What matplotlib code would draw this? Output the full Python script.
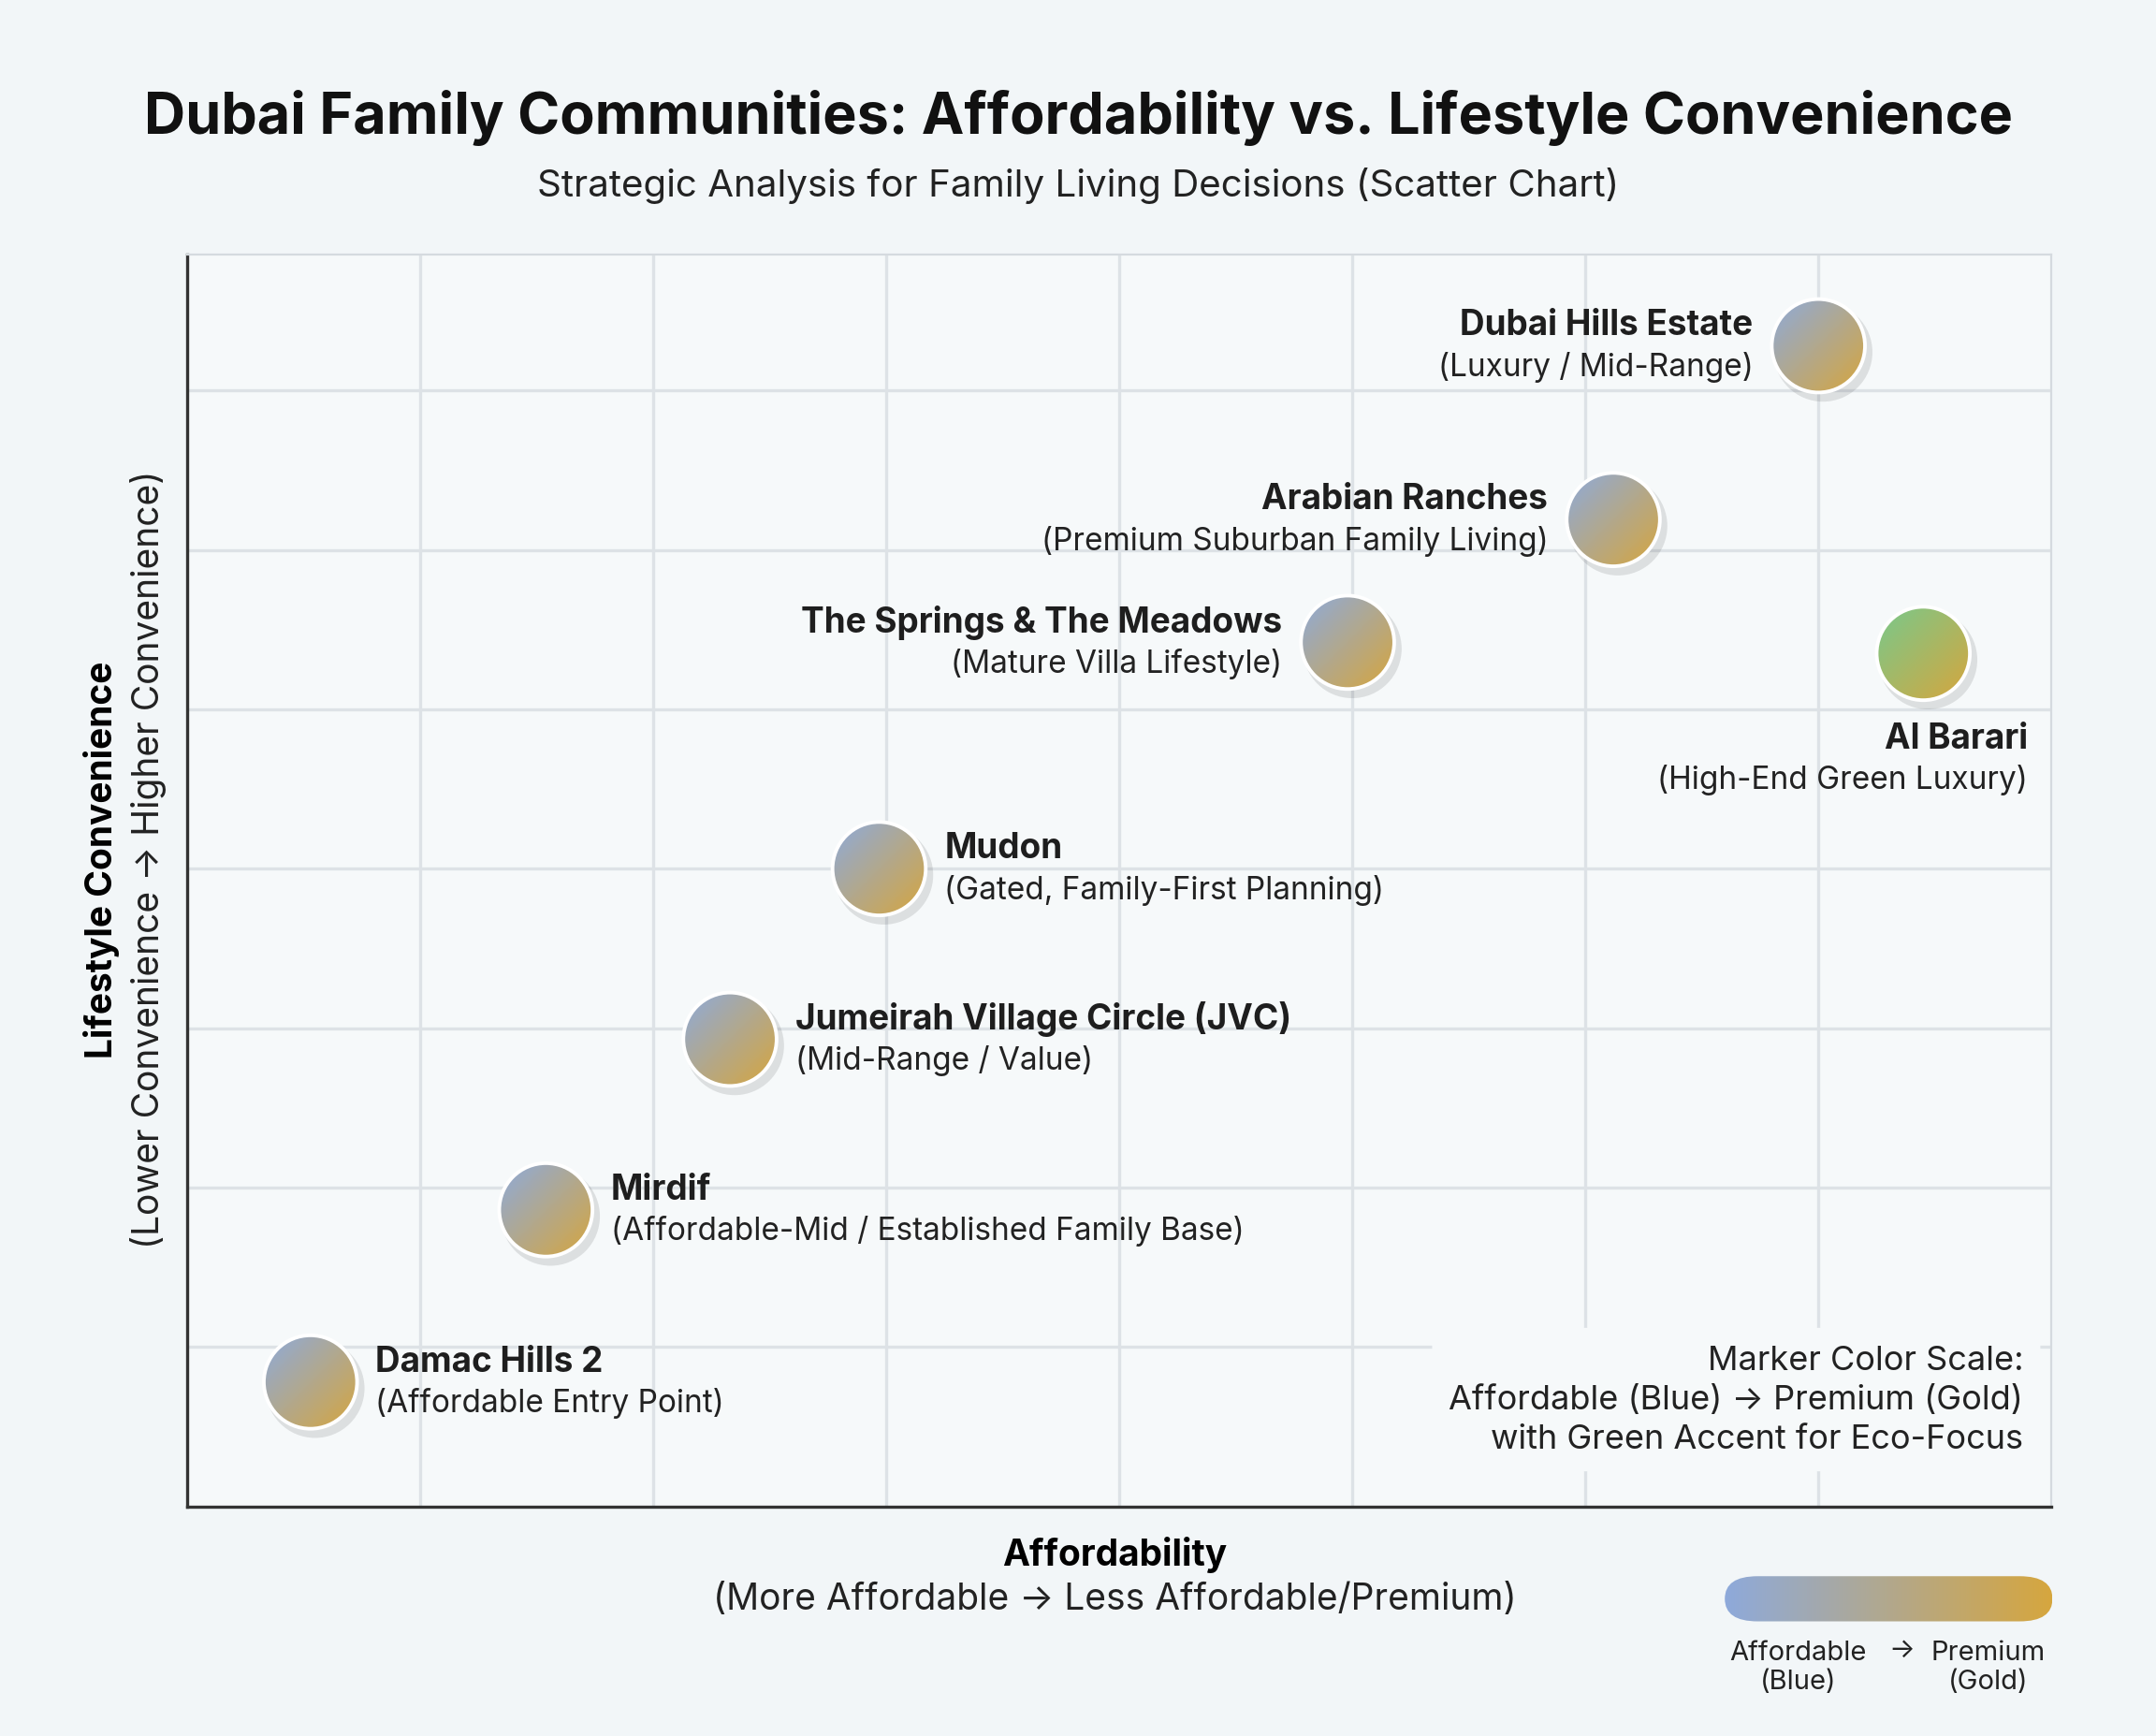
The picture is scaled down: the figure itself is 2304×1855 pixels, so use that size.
import numpy as np
import matplotlib
matplotlib.use("Agg")
import matplotlib.pyplot as plt
from matplotlib.patches import Ellipse, FancyBboxPatch
from matplotlib.colors import LinearSegmentedColormap

plt.rcParams["font.family"] = ["Inter", "DejaVu Sans"]

names = ["Damac Hills 2", "Mirdif", "Jumeirah Village Circle (JVC)", "Mudon",
         "The Springs & The Meadows", "Arabian Ranches", "Dubai Hills Estate", "Al Barari"]
subtitles = ["(Affordable Entry Point)", "(Affordable-Mid / Established Family Base)",
             "(Mid-Range / Value)", "(Gated, Family-First Planning)", "(Mature Villa Lifestyle)",
             "(Premium Suburban Family Living)", "(Luxury / Mid-Range)", "(High-End Green Luxury)"]
affordability = [0.53, 1.54, 2.33, 2.97, 4.98, 6.12, 7.0, 7.45]
convenience = [0.78, 1.86, 2.93, 4.0, 5.42, 6.19, 7.28, 5.35]
eco_focus = [False, False, False, False, False, False, False, True]
label_side = ["right", "right", "right", "right", "left", "left", "left", "below"]

BLUE = "#8eaadb"
GOLD = "#d6a63e"
GREEN = "#78c98c"
BG = "#f2f6f8"

fig = plt.figure(figsize=(11.52, 9.28), dpi=200, facecolor=BG)
ax = fig.add_axes([0.0867, 0.1322, 0.8648, 0.7205], facecolor="#f6f9fa")
ax.set_xlim(0, 8)
ax.set_ylim(0, 7.85)
ax.set_xticks(range(1, 8))
ax.set_yticks(range(1, 8))
ax.tick_params(length=0, labelbottom=False, labelleft=False)
ax.grid(True, color="#dde2e6", lw=1.2)
for s in ["top", "right"]:
    ax.spines[s].set_color("#d5dadf")
for s in ["left", "bottom"]:
    ax.spines[s].set_color("#333333")
    ax.spines[s].set_linewidth(1.2)

grad_cmap = LinearSegmentedColormap.from_list("bg", [BLUE, GOLD])
green_cmap = LinearSegmentedColormap.from_list("gg", [GREEN, GOLD])
g = np.linspace(0, 1, 64)
diag = (g[None, :] + g[:, None]) / 2

rx, ry = 0.2, 0.293
for x, y, eco in zip(affordability, convenience, eco_focus):
    cm = green_cmap if eco else grad_cmap
    shadow = Ellipse((x + 0.02, y - 0.04), 2 * rx * 1.06, 2 * ry * 1.06, color="#000000",
                     alpha=0.10, zorder=3, lw=0)
    ax.add_patch(shadow)
    ring = Ellipse((x, y), 2 * rx, 2 * ry, facecolor="none", edgecolor="white", lw=1.4, zorder=5)
    ax.add_patch(ring)
    im = ax.imshow(diag, cmap=cm, extent=(x - rx, x + rx, y - ry, y + ry), origin="upper",
                   zorder=4, aspect="auto")
    im.set_clip_path(ring)

NS, SS = 13.3, 12
for x, y, n, sub, side in zip(affordability, convenience, names, subtitles, label_side):
    if side == "right":
        ax.text(x + 0.28, y + 0.13, n, fontsize=NS, fontweight="bold", color="#1e1e1e",
                ha="left", va="center", zorder=6)
        ax.text(x + 0.28, y - 0.13, sub, fontsize=SS, color="#222222",
                ha="left", va="center", zorder=6)
    elif side == "left":
        ax.text(x - 0.28, y + 0.13, n, fontsize=NS, fontweight="bold", color="#1e1e1e",
                ha="right", va="center", zorder=6)
        ax.text(x - 0.28, y - 0.13, sub, fontsize=SS, color="#222222",
                ha="right", va="center", zorder=6)
    else:
        ax.text(x + 0.45, y - 0.53, n, fontsize=NS, fontweight="bold", color="#1e1e1e",
                ha="right", va="center", zorder=6)
        ax.text(x + 0.45, y - 0.79, sub, fontsize=SS, color="#222222",
                ha="right", va="center", zorder=6)

ax.text(7.88, 0.67, "Marker Color Scale:\nAffordable (Blue) \u2192 Premium (Gold)\nwith Green Accent for Eco-Focus",
        fontsize=13, ha="right", va="center", color="#222222", linespacing=1.35, zorder=6,
        bbox=dict(boxstyle="round,pad=0.5", fc="#f6f9fa", ec="none"))

fig.text(0.5, 0.932, "Dubai Family Communities: Affordability vs. Lifestyle Convenience",
         fontsize=22, fontweight="bold", ha="center", va="center", color="#111111")
fig.text(0.5, 0.893, "Strategic Analysis for Family Living Decisions (Scatter Chart)",
         fontsize=14.5, ha="center", va="center", color="#222222")

fig.text(0.517, 0.105, "Affordability", fontsize=14, fontweight="bold", ha="center", va="center")
fig.text(0.517, 0.079, "(More Affordable \u2192 Less Affordable/Premium)", fontsize=14,
         ha="center", va="center", color="#222222")
fig.text(0.047, 0.505, "Lifestyle Convenience", fontsize=14, fontweight="bold", rotation=90,
         ha="center", va="center")
fig.text(0.069, 0.505, "(Lower Convenience \u2192 Higher Convenience)", fontsize=14, rotation=90,
         ha="center", va="center", color="#222222")

# gradient legend bar
cax = fig.add_axes([0.80, 0.066, 0.152, 0.026])
cax.imshow(np.linspace(0, 1, 256)[None, :], cmap=grad_cmap, aspect="auto", extent=(0, 1, 0, 1))
clip = FancyBboxPatch((0.0, 0.0), 1.0, 1.0, boxstyle="round,pad=0,rounding_size=0.1",
                      transform=cax.transAxes, fc="none", ec="none", mutation_aspect=5)
cax.add_patch(clip)
cax.images[0].set_clip_path(clip)
cax.axis("off")
fig.text(0.834, 0.040, "Affordable\n(Blue)", fontsize=10.5, ha="center", va="center", color="#222222")
fig.text(0.882, 0.050, "\u2192", fontsize=10.5, ha="center", va="center", color="#222222")
fig.text(0.922, 0.040, "Premium\n(Gold)", fontsize=10.5, ha="center", va="center", color="#222222")

fig.savefig("out.png", dpi=200, facecolor=BG)
